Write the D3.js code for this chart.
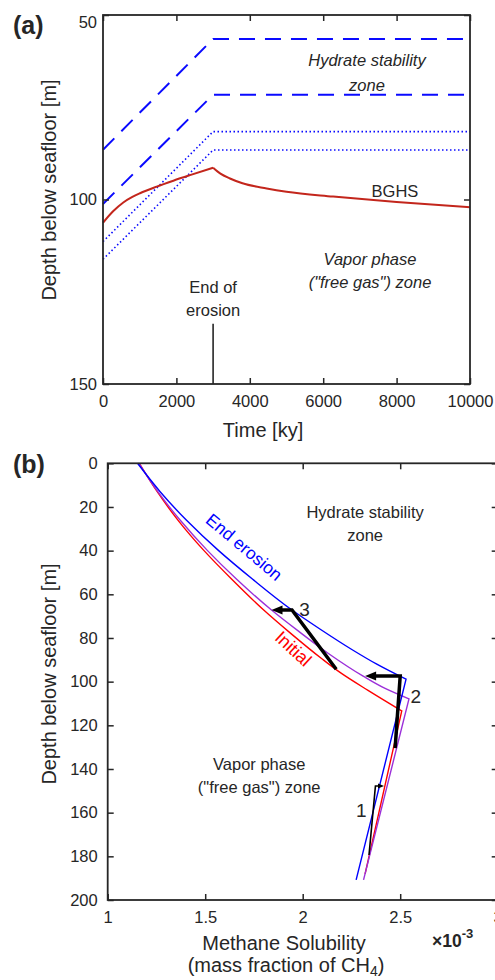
<!DOCTYPE html>
<html>
<head>
<meta charset="utf-8">
<script src="https://cdn.jsdelivr.net/npm/d3@7"></script>
<style>
  body { margin: 0; background: #fff; }
  svg { display: block; }
  text { fill: #262626; }
  .tick text { font-family: "Liberation Sans", Arial, sans-serif; font-size: 16.5px; }
  .ann { font-family: "Liberation Sans", Arial, sans-serif; font-size: 16.5px; }
  .label { font-family: "Liberation Sans", Arial, sans-serif; font-size: 20px; }
  .panel { font-family: "Liberation Sans", Arial, sans-serif; font-size: 25px; font-weight: bold; }
</style>
</head>
<body>
<svg id="chart" width="495" height="980"></svg>
<script>
// ---- panel (a): depth of stability boundaries through time ----
const timeKy = [0, 3000, 10000];
const hsTop = [86.5, 56.5, 56.5];
const hsBottom = [101.2, 71.6, 71.6];
const dotTop = [111.4, 81.6, 81.6];
const dotBottom = [116.2, 86.6, 86.6];

const bghsTime  = [0, 275, 553, 800, 1008, 1463, 1917, 2371, 3000, 3200, 3460, 3800, 4460, 5000, 6270, 8000, 10000];
const bghsDepth = [106.3, 103.2, 100.8, 99.3, 98.3, 96.5, 94.9, 93.4, 91.4, 93.0, 94.3, 95.6, 97.0, 97.9, 99.2, 100.7, 102.1];

const timeTicks = [0, 2000, 4000, 6000, 8000, 10000];
const depthTicksA = [50, 100, 150];

// ---- panel (b): methane solubility profiles (x 1e-3 mass fraction) ----
const endErosionDepth = [0, 13, 26, 40, 53, 67.2, 76, 85.5, 92, 98.9, 190.8];
const endErosionSol   = [1.153, 1.269, 1.403, 1.569, 1.742, 1.945, 2.09, 2.256, 2.38, 2.53, 2.274];

const laterDepth = [0, 13, 26, 40, 53, 67.2, 77, 87, 97.5, 103, 107.9, 190.8];
const laterSol   = [1.16, 1.257, 1.371, 1.512, 1.66, 1.84, 1.98, 2.13, 2.31, 2.42, 2.545, 2.312];

const initialDepth = [0, 13, 26, 40, 53, 67.2, 78, 89.3, 96, 104, 113.4, 188];
const initialSol   = [1.162, 1.254, 1.36, 1.494, 1.635, 1.80, 1.94, 2.095, 2.195, 2.335, 2.508, 2.32];

// steps as [solubility, depth]
const step1 = [[2.34, 179.4], [2.373, 147.8], [2.417, 147.8]];
const step2 = [[2.474, 130.5], [2.50, 97.4], [2.32, 97.4]];
const step3 = [[2.172, 94.3], [1.945, 67.2], [1.84, 67.2]];

const solTicks = [1, 1.5, 2, 2.5, 3];
const depthTicksB = [0, 20, 40, 60, 80, 100, 120, 140, 160, 180, 200];

const ink = '#262626';
const svg = d3.select('#chart');

function drawFrame(x, y, xTicks, yTicks, xPad, yPad) {
  const [l, r] = x.range(), [t, b] = y.range();
  const axes = svg.append('g').style('color', ink);
  axes.append('g').attr('transform', `translate(0,${b})`)
    .call(d3.axisBottom(x).tickValues(xTicks).tickSize(-6).tickSizeOuter(0).tickPadding(xPad).tickFormat(d => d));
  axes.append('g').attr('transform', `translate(0,${t})`)
    .call(d3.axisTop(x).tickValues(xTicks).tickSize(-6).tickSizeOuter(0).tickFormat(''));
  axes.append('g').attr('class', 'yleft').attr('transform', `translate(${l},0)`)
    .call(d3.axisLeft(y).tickValues(yTicks).tickSize(-6).tickSizeOuter(0).tickPadding(yPad).tickFormat(d => d));
  axes.append('g').attr('transform', `translate(${r},0)`)
    .call(d3.axisRight(y).tickValues(yTicks).tickSize(-6).tickSizeOuter(0).tickFormat(''));
  axes.selectAll('.domain').remove();
  axes.selectAll('.tick line').attr('stroke-width', 1.5);
  svg.append('rect')
    .attr('x', l).attr('y', t).attr('width', r - l).attr('height', b - t)
    .attr('fill', 'none').attr('stroke', ink).attr('stroke-width', 1.8);
  return axes;
}

function addText(x, y, str, cls, opts = {}) {
  const t = svg.append('text')
    .attr('class', cls)
    .attr('x', x).attr('y', y)
    .attr('text-anchor', opts.anchor || 'middle')
    .text(str);
  if (opts.italic) t.style('font-style', 'italic');
  if (opts.fill) t.style('fill', opts.fill);
  if (opts.size) t.style('font-size', opts.size + 'px');
  if (opts.rotate) t.attr('transform', `rotate(${opts.rotate},${x},${y})`);
  return t;
}

// ===== panel (a) =====
const xa = d3.scaleLinear().domain([0, 10000]).range([103, 470]);
const ya = d3.scaleLinear().domain([50, 150]).range([15, 384]);

const lineA = d3.line().x(d => xa(d[0])).y(d => ya(d[1]));

[[hsTop, '16,10', 2], [hsBottom, '16,10', 2], [dotTop, '1.5,2.5', 1.6], [dotBottom, '1.5,2.5', 1.6]]
  .forEach(([depths, dash, w]) => {
    svg.append('path')
      .datum(timeKy.map((t, i) => [t, depths[i]]))
      .attr('d', lineA)
      .attr('fill', 'none')
      .attr('stroke', '#0a0aff')
      .attr('stroke-width', w)
      .attr('stroke-dasharray', dash);
  });

// BGHS: rising until end of erosion, then relaxing (two pieces so the peak stays sharp)
const bghs = bghsTime.map((t, i) => [t, bghsDepth[i]]);
const peak = d3.minIndex(bghsDepth);
const smoothA = d3.line().x(d => xa(d[0])).y(d => ya(d[1])).curve(d3.curveMonotoneX);
[bghs.slice(0, peak + 1), bghs.slice(peak)].forEach(part => {
  svg.append('path')
    .datum(part)
    .attr('d', smoothA)
    .attr('fill', 'none')
    .attr('stroke', '#c3261c')
    .attr('stroke-width', 2);
});

// end of erosion marker
svg.append('line')
  .attr('x1', xa(3000)).attr('x2', xa(3000))
  .attr('y1', ya(133.7)).attr('y2', ya(150))
  .attr('stroke', ink).attr('stroke-width', 1.6);

const axesA = drawFrame(xa, ya, timeTicks, depthTicksA, 11, 6);
axesA.select('.yleft').selectAll('.tick text').filter(d => d === 50).attr('transform', 'translate(0,7)');

addText(xa(7193), ya(63.7), 'Hydrate stability', 'ann', { italic: true });
addText(xa(7193), ya(70.7), 'zone', 'ann', { italic: true });
addText(xa(7956), ya(99.2), 'BGHS', 'ann');
addText(xa(7275), ya(117.8), 'Vapor phase', 'ann', { italic: true });
addText(xa(7275), ya(123.9), '("free gas") zone', 'ann', { italic: true });
addText(xa(3000), ya(125.4), 'End of', 'ann');
addText(xa(3000), ya(131.6), 'erosion', 'ann');

addText(263, 436.7, 'Time [ky]', 'label');
addText(56, 190, 'Depth below seafloor [m]', 'label', { rotate: -90 });
addText(13, 34, '(a)', 'panel', { anchor: 'start' });

// ===== panel (b) =====
const xb = d3.scaleLinear().domain([1, 3]).range([107.7, 497.7]);
const yb = d3.scaleLinear().domain([0, 200]).range([463.3, 900]);

const smoothB = d3.line().x(d => xb(d[1])).y(d => yb(d[0])).curve(d3.curveMonotoneY);

function profile(depths, sols, color) {
  const pts = depths.map((d, i) => [d, sols[i]]);
  const kink = d3.maxIndex(sols);
  // smooth above the kink, straight below it
  const d = smoothB(pts.slice(0, kink + 1)) +
    pts.slice(kink + 1).map(p => `L${xb(p[1])},${yb(p[0])}`).join('');
  svg.append('path')
    .attr('d', d)
    .attr('fill', 'none')
    .attr('stroke', color)
    .attr('stroke-width', 1.4);
}

profile(initialDepth, initialSol, '#ff0000');
profile(laterDepth, laterSol, '#9b30d9');
profile(endErosionDepth, endErosionSol, '#0000ff');

function step(points, width, headLen, headW) {
  const p = points.map(([s, d]) => [xb(s), yb(d)]);
  const n = p.length;
  const [tx, ty] = p[n - 1], [px, py] = p[n - 2];
  const len = Math.hypot(tx - px, ty - py);
  const ux = (tx - px) / len, uy = (ty - py) / len;
  const body = p.slice(0, n - 1).concat([[tx - ux * headLen * 0.6, ty - uy * headLen * 0.6]]);
  svg.append('path')
    .datum(body)
    .attr('d', d3.line())
    .attr('fill', 'none')
    .attr('stroke', '#000')
    .attr('stroke-width', width)
    .attr('stroke-linejoin', 'miter');
  const bx = tx - ux * headLen, by = ty - uy * headLen;
  svg.append('path')
    .attr('d', `M${tx},${ty}L${bx - uy * headW / 2},${by + ux * headW / 2}L${bx + uy * headW / 2},${by - ux * headW / 2}Z`)
    .attr('fill', '#000');
}

step(step3, 3.5, 11, 9);
step(step2, 3.5, 11, 9);
step(step1, 1.6, 6, 5);

drawFrame(xb, yb, solTicks, depthTicksB, 11.5, 10);

addText(xb(2.32), yb(25), 'Hydrate stability', 'ann');
addText(xb(2.32), yb(35.7), 'zone', 'ann');
addText(xb(1.777), yb(140.4), 'Vapor phase', 'ann');
addText(xb(1.777), yb(151.1), '("free gas") zone', 'ann');

addText(xb(1.68), yb(40.5), 'End erosion', 'ann', { fill: '#0000ff', rotate: 40, size: 17.5 });
addText(xb(1.93), yb(87), 'Initial', 'ann', { fill: '#ff0000', rotate: 43, size: 18 });

addText(xb(2.01), yb(69.9), '3', 'label', { size: 19 });
addText(xb(2.58), yb(110), '2', 'label', { size: 19 });
addText(xb(2.30), yb(162), '1', 'label', { size: 19 });

addText(284, 950, 'Methane Solubility', 'label');
const sub = addText(286, 972, '(mass fraction of CH', 'label');
sub.append('tspan').attr('dy', 4).style('font-size', '14px').text('4');
sub.append('tspan').attr('dy', -4).text(')');

const mult = addText(432, 947, '×10', 'label', { anchor: 'start', size: 17.5 });
mult.style('font-weight', 'bold');
mult.append('tspan').attr('dy', -9).style('font-size', '13px').text('-3');

addText(56, 674, 'Depth below seafloor [m]', 'label', { rotate: -90 });
addText(13, 473, '(b)', 'panel', { anchor: 'start' });
</script>
</body>
</html>
